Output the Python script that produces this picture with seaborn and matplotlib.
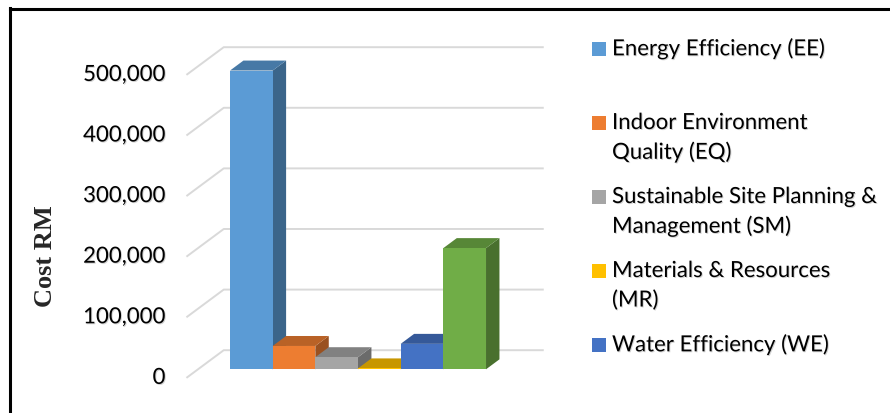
import numpy as np
import pandas as pd
import matplotlib
matplotlib.use("Agg")
import matplotlib.pyplot as plt
import matplotlib.colors as mcolors
import matplotlib.patheffects as pe
from matplotlib.patches import Polygon, Rectangle
from matplotlib.lines import Line2D
import seaborn as sns

# ---- data -------------------------------------------------------------
categories = ["EE", "EQ", "SM", "MR", "WE", "IN"]
cost_rm = [493000, 38500, 20000, 1500, 42000, 200000]
bar_colors = ["#5B9BD5", "#ED7D31", "#A5A5A5", "#FFC000", "#4472C4", "#70AD47"]
legend_labels = [
    "Energy Efficiency (EE)",
    "Indoor Environment\nQuality (EQ)",
    "Sustainable Site Planning &\nManagement (SM)",
    "Materials & Resources\n(MR)",
    "Water Efficiency (WE)",
]
y_ticks = [0, 100000, 200000, 300000, 400000, 500000]
y_tick_labels = ["0", "100,000", "200,000", "300,000", "400,000", "500,000"]
y_label = "Cost RM"

# ---- figure geometry (pixels, origin top-left) -------------------------
W, H, DPI = 890, 413, 100
AX_L, AX_R, AX_T, AX_B = 150, 560, 15, 405
BAR_LEFT_PX = 230.0      # left edge of first bar front face
BASE_PX = 369.3          # baseline of bar front faces
PX_PER_UNIT = 42.67      # width of one category slot
PX_PER_VALUE = 60.6 / 100000
WALL_DX_PX, WALL_DY_PX = 37.3, 27.7   # full depth of the 3-D box
Z_FRONT, Z_BAR_BACK, Z_WALL = -0.31, 0.36, 0.69  # depths relative to bar fronts
WALL_X0, WALL_X1 = -1.25, 6.25

DX = WALL_DX_PX / PX_PER_UNIT
DY = WALL_DY_PX / PX_PER_VALUE


def shift(x, y, dz):
    return (x + dz * DX, y + dz * DY)


def shade(color, f):
    r, g, b = mcolors.to_rgb(color)
    return (r * f, g * f, b * f)


# soft drop shadow behind the sans-serif labels
text_shadow = [pe.withSimplePatchShadow(offset=(0.7, -0.7), shadow_rgbFace="#808080", alpha=0.35)]

sns.set_theme(style="white")
plt.rcParams["font.family"] = ["Lato", "DejaVu Sans"]

fig = plt.figure(figsize=(W / DPI, H / DPI), dpi=DPI)
fig.patch.set_facecolor("white")
ax = fig.add_axes([AX_L / W, 1 - AX_B / H, (AX_R - AX_L) / W, (AX_B - AX_T) / H])

df = pd.DataFrame({"category": categories, "cost": cost_rm})
sns.barplot(data=df, x="category", y="cost", hue="category", palette=bar_colors,
            width=1.0, linewidth=0, saturation=1, legend=False, ax=ax)

ax.set_xlim(-0.5 - (BAR_LEFT_PX - AX_L) / PX_PER_UNIT,
            -0.5 + (AX_R - BAR_LEFT_PX) / PX_PER_UNIT)
ax.set_ylim(-(AX_B - BASE_PX) / PX_PER_VALUE, (BASE_PX - AX_T) / PX_PER_VALUE)
ax.axis("off")

# back wall gridlines and left wall diagonals
grid_kw = dict(color="#D9D9D9", lw=1.4, zorder=1, solid_capstyle="butt")
for v in y_ticks:
    p0 = shift(WALL_X0, v, Z_FRONT)
    p1 = shift(WALL_X0, v, Z_WALL)
    p2 = shift(WALL_X1, v, Z_WALL)
    ax.add_line(Line2D([p0[0], p1[0], p2[0]], [p0[1], p1[1], p2[1]], **grid_kw))

# depth faces of each bar; each front face sits over the previous bar's side
for i, patch in enumerate(ax.patches[:len(categories)]):
    x0, w, h = patch.get_x(), patch.get_width(), patch.get_height()
    col = bar_colors[i]
    patch.set_zorder(4 + 2 * i)
    side = [(x0 + w, 0), (x0 + w, h), shift(x0 + w, h, Z_BAR_BACK), shift(x0 + w, 0, Z_BAR_BACK)]
    top = [(x0, h), (x0 + w, h), shift(x0 + w, h, Z_BAR_BACK), shift(x0, h, Z_BAR_BACK)]
    ax.add_patch(Polygon(side, closed=True, fc=shade(col, 0.65), ec="none", zorder=3 + 2 * i))
    ax.add_patch(Polygon(top, closed=True, fc=shade(col, 0.78), ec="none", zorder=3 + 2 * i))

# value axis labels on the front plane
for v, lab in zip(y_ticks, y_tick_labels):
    ax.annotate(lab, xy=shift(WALL_X0, v, Z_FRONT), xytext=(-21 * 72 / DPI, 0),
                textcoords="offset points", ha="right", va="center",
                fontsize=16, color="black", annotation_clip=False,
                path_effects=text_shadow)

fig.text(46 / W, 1 - 256 / H, y_label, rotation=90, ha="center", va="center",
         fontsize=19, fontweight="bold", family=["Liberation Serif", "DejaVu Serif"])

# legend
LEG_SQ_X, LEG_SQ = 592, 14
LEG_TXT_X = 612
LEG_Y0, LEG_STEP, LINE_STEP = 49, 74, 29.5
for i, lab in enumerate(legend_labels):
    yc = LEG_Y0 + LEG_STEP * i
    fig.add_artist(Rectangle((LEG_SQ_X / W, 1 - (yc + LEG_SQ / 2) / H), LEG_SQ / W, LEG_SQ / H,
                             transform=fig.transFigure, fc=bar_colors[i], ec="none"))
    for k, line in enumerate(lab.split("\n")):
        fig.text(LEG_TXT_X / W, 1 - (yc + k * LINE_STEP) / H, line, ha="left", va="center",
                 fontsize=16, color="black", path_effects=text_shadow)

# chart frame
fig.add_artist(Line2D([9.5 / W, 9.5 / W], [0, 1 - 8 / H], transform=fig.transFigure,
                      color="black", lw=2.2, solid_capstyle="projecting"))
fig.add_artist(Line2D([9.5 / W, 1], [1 - 9 / H, 1 - 9 / H], transform=fig.transFigure,
                      color="black", lw=2.2, solid_capstyle="projecting"))

fig.savefig("out.png", dpi=DPI)
